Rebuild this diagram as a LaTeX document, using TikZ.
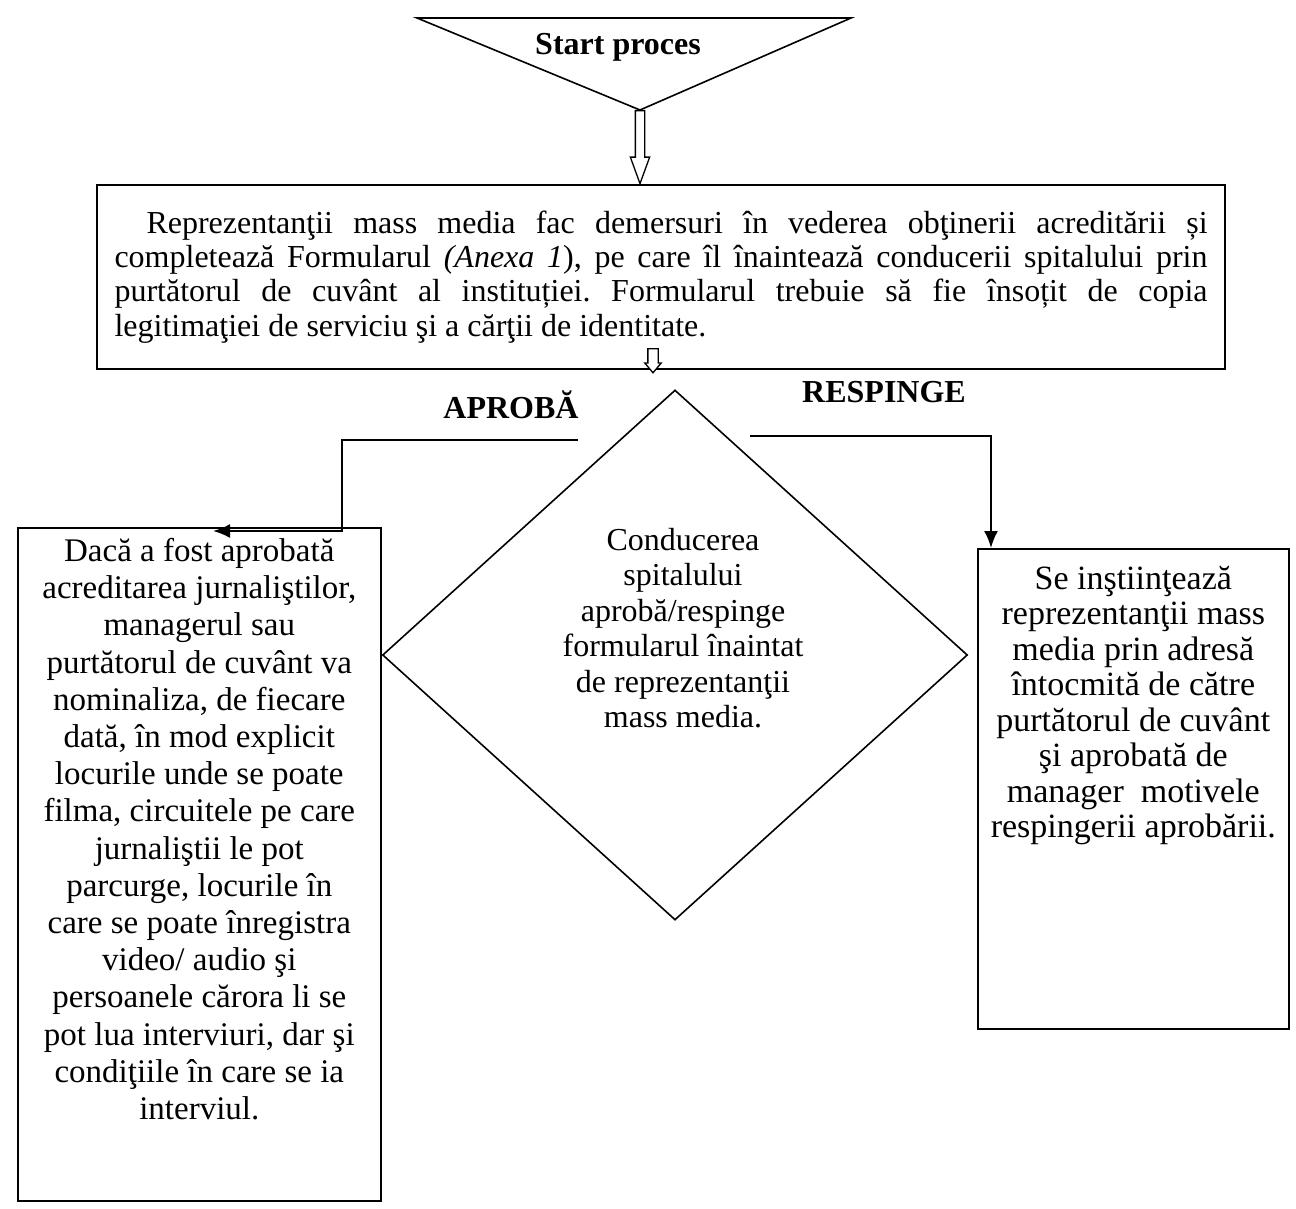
\documentclass[tikz,border=0pt]{standalone}
\usepackage{fontspec}
\setmainfont{Liberation Serif}
\usetikzlibrary{arrows.meta, positioning, shapes.geometric, shapes.arrows}

\begin{document}
\frenchspacing
\begin{tikzpicture}[x=1pt, y=-1pt, >=Latex,
    box/.style={draw, line width=1.6pt, inner sep=0pt},
    txt/.style={inner sep=0pt, align=center, font=\fontsize{32}{35.5}\selectfont},
    lbl/.style={inner sep=0pt, font=\fontsize{32}{36}\selectfont\bfseries},
    flow/.style={line width=2pt, -{Latex[length=17pt, width=14pt]}},
    hollow/.style={draw, line width=1.3pt, fill=white, single arrow, shape border rotate=270,
      single arrow head indent=0pt}]
  \useasboundingbox (0,0) rectangle (1296,1209);

  \draw[line width=1.6pt] (417,18) coordinate (triL) -- (851,18) coordinate (triR)
    -- (640,110) coordinate (apex) -- cycle;
  \node[lbl] (start) at (618,47) {Start proces};

  \node[box, inner xsep=17.5pt, minimum height=184pt, text width=1093pt, align=justify,
    font=\fontsize{32}{34.3}\selectfont] (req) at (661,277)
    {\hspace*{32pt}Reprezentanţii mass media fac demersuri în vederea obţinerii acreditării și\linebreak
     completează Formularul \textit{(Anexa 1}), pe care îl înaintează conducerii spitalului prin\linebreak
     purtătorul de cuvânt al instituției. Formularul trebuie să fie însoțit de copia\linebreak
     legitimaţiei de serviciu şi a cărţii de identitate.};

  \node[hollow, inner sep=4pt, minimum height=73pt, single arrow head extend=5pt,
    single arrow tip angle=40, anchor=tail] (arrA) at (apex) {};
  \node[hollow, inner sep=4.5pt, minimum height=24pt, single arrow head extend=3pt,
    single arrow tip angle=80, anchor=tip] (arrB) at ([xshift=-8pt, yshift=-4pt]req.south) {};

  \node[draw, diamond, line width=1.6pt, inner sep=0pt, minimum width=585pt,
    minimum height=530pt] (dec) at (675,655) {};
  \node[txt] (decText) at (683,628)
    {Conducerea\\spitalului\\aprobă/respinge\\formularul înaintat\\de reprezentanţii\\mass media.};

  \node[lbl] (yes) at (511,405) {APROBĂ};
  \node[lbl] (no) at (884,392) {RESPINGE};

  \node[box, minimum width=363pt, minimum height=673pt, anchor=north west] (yesBox) at (17,527) {};
  \node[txt, below=11pt of yesBox.north, font=\fontsize{33}{37.2}\selectfont] (yesText)
    {Dacă a fost aprobată\\acreditarea jurnaliştilor,\\managerul sau\\purtătorul de cuvânt va\\
     nominaliza, de fiecare\\dată, în mod explicit\\locurile unde se poate\\filma, circuitele pe care\\
     jurnaliştii le pot\\parcurge, locurile în\\care se poate înregistra\\video/ audio şi\\
     persoanele cărora li se\\pot lua interviuri, dar şi\\condiţiile în care se ia\\interviul.};

  \node[box, minimum width=311pt, minimum height=480pt, anchor=north west] (noBox) at (977,548) {};
  \node[txt, below=18pt of noBox.north, font=\fontsize{34}{35.5}\selectfont] (noText)
    {Se inştiinţează\\reprezentanţii mass\\media prin adresă\\întocmită de către\\purtătorul de cuvânt\\
     şi aprobată de\\manager\ \ motivele\\respingerii aprobării.};

  \coordinate (yesStart) at (578,440);
  \coordinate (noStart) at (750,436);
  \draw[flow] (yesStart) -| ([xshift=-40pt, yshift=-4pt]yesBox.north east)
    -- ([xshift=196pt, yshift=-4pt]yesBox.north west);
  \draw[flow] (noStart) -| ([xshift=14pt]noBox.north west);
\end{tikzpicture}
\end{document}
